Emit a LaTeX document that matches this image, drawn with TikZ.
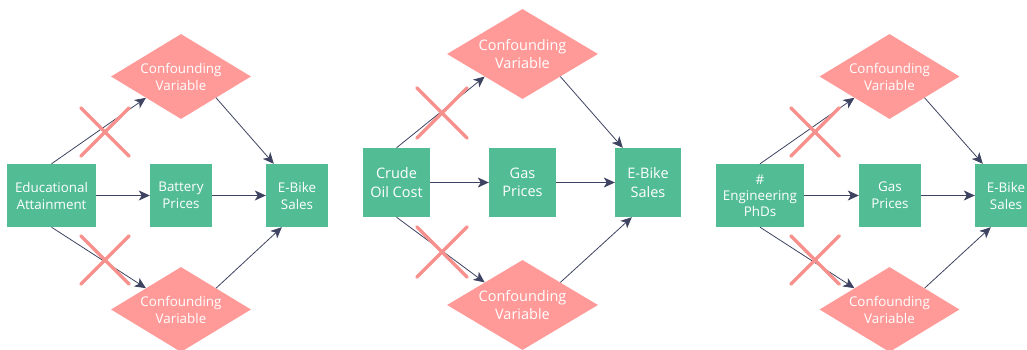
\documentclass[tikz,border=0pt]{standalone}
\usepackage{fontspec}
\setmainfont{Open Sans}
\usetikzlibrary{arrows.meta, shapes.geometric, shapes.misc}

\definecolor{boxgreen}{HTML}{52BD94}
\definecolor{confpink}{HTML}{FF9A98}
\definecolor{crosspink}{HTML}{F7918D}
\definecolor{arrowgray}{HTML}{3D4361}

\tikzset{
    factor/.style={rectangle, fill=boxgreen, text=white, align=center, inner sep=0pt},
    confounder/.style={diamond, fill=confpink, text=white, align=center, inner sep=0pt, aspect=1.65},
    causal/.style={draw=arrowgray, line width=0.8pt, -{Stealth[length=11pt, width=10pt, inset=3pt]}},
    crossmark/.style={cross out, draw=crosspink, line width=3.5pt, line cap=round, inner sep=0pt},
    small/.style={font=\fontsize{13.4}{17}\selectfont},
    large/.style={font=\fontsize{14.5}{18.5}\selectfont},
}

\begin{document}
\begin{tikzpicture}[x=1pt, y=-1pt]
    \useasboundingbox (0,0) rectangle (1027,350);

    \node[factor, small, minimum width=89pt, minimum height=63pt] (edu) at (51.5,195.5) {Educational\\Attainment};
    \node[factor, small, minimum width=62pt, minimum height=63pt] (battery) at (181,195.5) {Battery\\Prices};
    \node[factor, small, minimum width=62pt, minimum height=63pt] (ebikeA) at (297,195.5) {E-Bike\\Sales};
    \node[confounder, small, minimum width=140pt, minimum height=85pt] (confAtop) at (181,76.5) {Confounding\\Variable};
    \node[confounder, small, minimum width=140pt, minimum height=85pt] (confAbot) at (181,309.5) {Confounding\\Variable};

    \node[factor, large, minimum width=67pt, minimum height=69pt] (crude) at (396.5,182.5) {Crude\\Oil Cost};
    \node[factor, large, minimum width=67pt, minimum height=69pt] (gasB) at (522.5,182.5) {Gas\\Prices};
    \node[factor, large, minimum width=66pt, minimum height=69pt] (ebikeB) at (648,182.5) {E-Bike\\Sales};
    \node[confounder, large, minimum width=151pt, minimum height=90pt] (confBtop) at (522.5,54) {Confounding\\Variable};
    \node[confounder, large, minimum width=151pt, minimum height=90pt] (confBbot) at (522.5,305) {Confounding\\Variable};

    \node[factor, small, minimum width=88pt, minimum height=63pt, font=\fontsize{13.4}{16}\selectfont] (phd) at (760,195.5) {\#\\Engineering\\PhDs};
    \node[factor, small, minimum width=62pt, minimum height=63pt] (gasC) at (890,195.5) {Gas\\Prices};
    \node[factor, small, minimum width=62pt, minimum height=63pt] (ebikeC) at (1006,195.5) {E-Bike\\Sales};
    \node[confounder, small, minimum width=140pt, minimum height=85pt] (confCtop) at (889.5,76.5) {Confounding\\Variable};
    \node[confounder, small, minimum width=140pt, minimum height=85pt] (confCbot) at (889.5,309.5) {Confounding\\Variable};

    \draw [causal] (edu) -- (battery);
    \draw [causal] (battery) -- (ebikeA);
    \draw [causal] (edu.north) -- (confAtop.south west);
    \draw [causal] (edu.south) -- (confAbot.north west);
    \draw [causal] (confAtop.south east) -- ([xshift=8pt]ebikeA.north west);
    \draw [causal] (confAbot.north east) -- ([xshift=16pt]ebikeA.south west);

    \draw [causal] (crude) -- (gasB);
    \draw [causal] (gasB) -- (ebikeB);
    \draw [causal] (crude.north) -- (confBtop.south west);
    \draw [causal] (crude.south) -- (confBbot.north west);
    \draw [causal] (confBtop.south east) -- ([xshift=8pt]ebikeB.north west);
    \draw [causal] (confBbot.north east) -- ([xshift=17pt]ebikeB.south west);

    \draw [causal] (phd) -- (gasC);
    \draw [causal] (gasC) -- (ebikeC);
    \draw [causal] (phd.north) -- (confCtop.south west);
    \draw [causal] (phd.south) -- (confCbot.north west);
    \draw [causal] (confCtop.south east) -- ([xshift=8pt]ebikeC.north west);
    \draw [causal] (confCbot.north east) -- ([xshift=16pt]ebikeC.south west);

    \node[crossmark, minimum size=45pt] (crossAtop) at (105,132) {};
    \node[crossmark, minimum size=45pt] (crossAbot) at (105,260) {};
    \node[crossmark, minimum size=47pt] (crossBtop) at (442,113) {};
    \node[crossmark, minimum size=47pt] (crossBbot) at (442,252) {};
    \node[crossmark, minimum size=45pt] (crossCtop) at (815,132) {};
    \node[crossmark, minimum size=45pt] (crossCbot) at (815,260) {};
\end{tikzpicture}
\end{document}
